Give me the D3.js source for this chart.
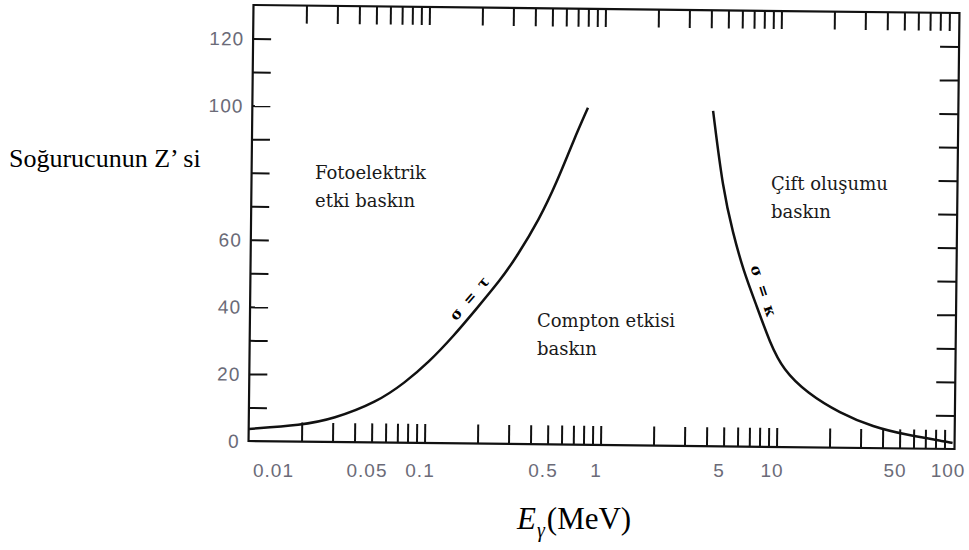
<!DOCTYPE html>
<meta charset="utf-8">

<!-- Load d3.js -->
<script src="https://d3js.org/d3.v7.min.js"></script>

<style>
  body { margin: 0; background: #fff; }
</style>

<!-- Create a div where the graph will take place -->
<div id="my_dataviz"></div>

<script>

  // sigma = tau line (photoelectric = Compton), E in MeV, Z of absorber
  var photoE = [0.01, 0.02, 0.03, 0.0534, 0.077, 0.104, 0.144, 0.192, 0.265, 0.326, 0.433, 0.541, 0.675, 0.807];
  var photoZ = [3.6, 4.9, 6.8, 12, 18, 24, 32, 40, 49, 56, 67, 78, 91, 100.5];

  // sigma = kappa line (Compton = pair production)
  var pairE = [4.15, 4.78, 5.48, 6.29, 7.59, 9.04, 10.8, 14.8, 22.8, 35.2, 55, 93, 100];
  var pairZ = [100, 76.4, 63.7, 52.7, 41.7, 31.0, 23.0, 16.2, 10.3, 6.3, 4.0, 2.1, 1.8];

  // tick labels
  var xLabels = [0.01, 0.05, 0.1, 0.5, 1, 5, 10, 50, 100];
  var yLabels = [0, 20, 40, 60, 100, 120];
  var yTicks = d3.range(10, 130, 10);

  var width = 969, height = 550;
  var box = {left: 251, right: 957, top: 9, bottom: 445};
  var tilt = 0.65;   // the scanned frame sits slightly rotated

  var svg = d3.select("#my_dataviz")
    .append("svg")
      .attr("width", width)
      .attr("height", height);

  var x = d3.scaleLog()
      .domain([0.01, 100])
      .range([box.left, box.right - 2]);
  var y = d3.scaleLinear()
      .domain([0, 130])
      .range([box.bottom, box.top]);

  var cx = (box.left + box.right) / 2,
      cy = (box.top + box.bottom) / 2;

  var plot = svg.append("g")
      .attr("transform", "rotate(" + tilt + "," + cx + "," + cy + ")");

  // frame
  plot.append("rect")
      .attr("x", box.left)
      .attr("y", box.top)
      .attr("width", box.right - box.left)
      .attr("height", box.bottom - box.top)
      .attr("fill", "none")
      .attr("stroke", "#111")
      .attr("stroke-width", 2.2);

  // minor log ticks, no ticks at the domain ends
  var xTicks = x.ticks().filter(function(d) { return d > 0.011 && d < 95; });

  function tickStyle(g) {
    g.select(".domain").remove();
    g.selectAll(".tick line").attr("stroke", "#111").attr("stroke-width", 2);
  }

  plot.append("g")
      .attr("transform", "translate(0," + box.bottom + ")")
      .call(d3.axisBottom(x).tickValues(xTicks).tickSize(-19).tickFormat(""))
      .call(tickStyle);
  plot.append("g")
      .attr("transform", "translate(0," + box.top + ")")
      .call(d3.axisTop(x).tickValues(xTicks).tickSize(-18).tickFormat(""))
      .call(tickStyle);
  plot.append("g")
      .attr("transform", "translate(" + box.left + ",0)")
      .call(d3.axisLeft(y).tickValues(yTicks).tickSize(-18).tickFormat(""))
      .call(tickStyle);
  plot.append("g")
      .attr("transform", "translate(" + box.right + ",0)")
      .call(d3.axisRight(y).tickValues(yTicks).tickSize(-19).tickFormat(""))
      .call(tickStyle);

  // y tick labels (80 is hidden in the original)
  plot.selectAll(".ylab")
    .data(yLabels)
    .enter()
    .append("text")
      .attr("class", "ylab")
      .attr("x", box.left - 9)
      .attr("y", function(d) { return y(d) + 7; })
      .attr("text-anchor", "end")
      .style("font-family", "'Liberation Sans', Arial, sans-serif")
      .style("font-size", "19px")
      .style("letter-spacing", "1px")
      .style("fill", "#6b6b78")
      .text(function(d) { return d; });

  // the two boundary curves (smoothed through the read-off points)
  var line = d3.line()
      .x(function(d) { return x(d[0]); })
      .y(function(d) { return y(d[1]); })
      .curve(d3.curveBasis);

  plot.append("path")
      .datum(d3.zip(photoE, photoZ))
      .attr("d", line)
      .attr("fill", "none")
      .attr("stroke", "#111")
      .attr("stroke-width", 2.5);
  plot.append("path")
      .datum(d3.zip(pairE, pairZ))
      .attr("d", line)
      .attr("fill", "none")
      .attr("stroke", "#111")
      .attr("stroke-width", 2.5);

  // small labels along the curves
  plot.append("text")
      .attr("transform", "translate(" + x(0.177) + "," + y(43.5) + ") rotate(-50)")
      .attr("text-anchor", "middle")
      .attr("dy", "0.35em")
      .style("font-family", "'DejaVu Serif', serif")
      .style("font-weight", "bold")
      .style("font-size", "15px")
      .style("letter-spacing", "2px")
      .text("σ = τ");
  plot.append("text")
      .attr("transform", "translate(" + x(8.3) + "," + y(46.2) + ") rotate(71)")
      .attr("text-anchor", "middle")
      .attr("dy", "0.35em")
      .style("font-family", "'DejaVu Serif', serif")
      .style("font-weight", "bold")
      .style("font-size", "15px")
      .style("letter-spacing", "2px")
      .text("σ = κ");

  // x tick labels
  svg.selectAll(".xlab")
    .data(xLabels)
    .enter()
    .append("text")
      .attr("class", "xlab")
      .attr("x", function(d, i) { return i == 0 ? x(d) + 2 : x(d) - 7; })
      .attr("y", 477)
      .attr("text-anchor", function(d, i) { return i == 0 ? "start" : "middle"; })
      .style("font-family", "'Liberation Sans', Arial, sans-serif")
      .style("font-size", "19px")
      .style("letter-spacing", "1px")
      .style("fill", "#6b6b78")
      .text(function(d) { return d; });

  // region labels
  var regions = [
    {lines: ["Fotoelektrik", "etki baskın"], x: 315, y: 179},
    {lines: ["Compton etkisi", "baskın"], x: 537, y: 327},
    {lines: ["Çift oluşumu", "baskın"], x: 771, y: 190}
  ];
  regions.forEach(function(r) {
    var t = svg.append("text")
        .attr("x", r.x)
        .attr("y", r.y)
        .style("font-family", "'DejaVu Serif', serif")
        .style("font-size", "18px")
        .style("fill", "#1a1a1a");
    r.lines.forEach(function(s, i) {
      t.append("tspan")
          .attr("x", r.x)
          .attr("dy", i == 0 ? 0 : 28)
          .text(s);
    });
  });

  // axis titles
  svg.append("text")
      .attr("x", 9)
      .attr("y", 167)
      .style("font-family", "'Liberation Serif', 'Times New Roman', serif")
      .style("font-size", "26px")
      .text("Soğurucunun Z’ si");

  var xt = svg.append("text")
      .attr("x", 517)
      .attr("y", 529)
      .style("font-family", "'Liberation Serif', 'Times New Roman', serif")
      .style("font-size", "31px");
  xt.append("tspan").style("font-style", "italic").text("E");
  xt.append("tspan").style("font-style", "italic").style("font-size", "20px")
      .attr("dx", 1).attr("dy", 8).text("γ");
  xt.append("tspan").attr("dx", 2).attr("dy", -8).text("(MeV)");

</script>
